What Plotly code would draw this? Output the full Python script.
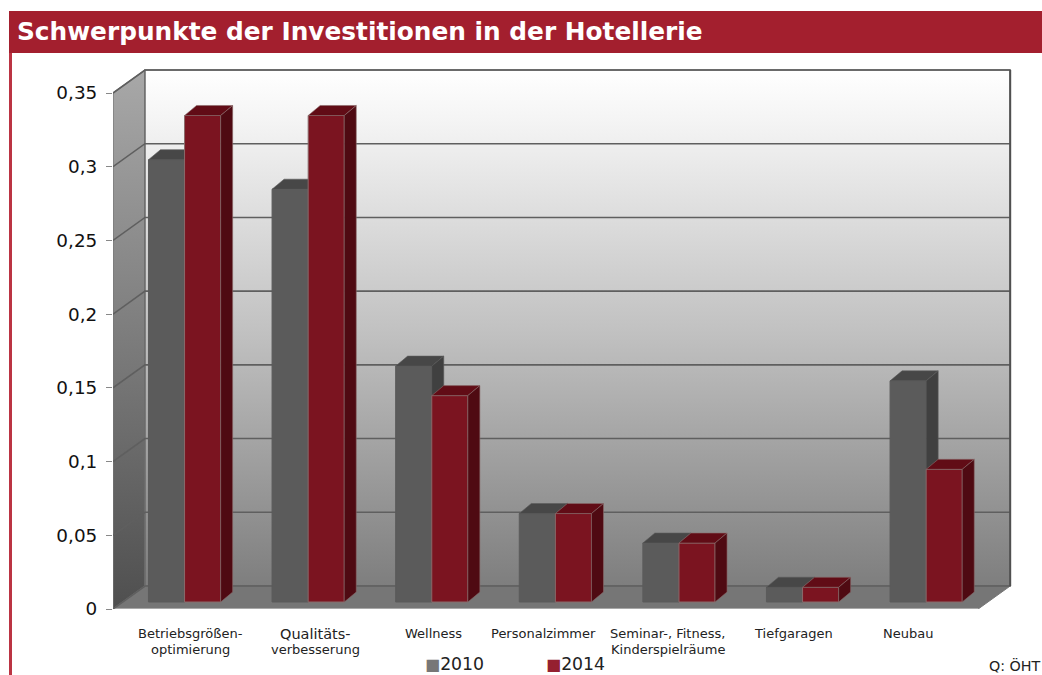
import plotly.graph_objects as go

W, H = 1042, 675
title = "Schwerpunkte der Investitionen in der Hotellerie"
source = "Q: ÖHT"
categories = [["Betriebsgrößen-", "optimierung"], ["Qualitäts-", "verbesserung"], ["Wellness"], ["Personalzimmer"],
              ["Seminar-, Fitness,", "Kinderspielräume"], ["Tiefgaragen"], ["Neubau"]]
values_2010 = [0.30, 0.28, 0.16, 0.06, 0.04, 0.01, 0.15]
values_2014 = [0.33, 0.33, 0.14, 0.06, 0.04, 0.01, 0.09]
y_ticks = [0, 0.05, 0.1, 0.15, 0.2, 0.25, 0.3, 0.35]
y_labels = ["0", "0,05", "0,1", "0,15", "0,2", "0,25", "0,3", "0,35"]
label_centers = [0.623, 1.64, 2.597, 3.479, 4.49, 5.502, 6.432]

# layout geometry (pixels)
PX_L, PX_R, PX_B, PX_T = 113, 1013, 609, 65
PX_PER_CAT = 123.6
PX_PER_VAL = 516 / 0.35
xr = [0, (PX_R - PX_L) / PX_PER_CAT]
yr = [0, (PX_B - PX_T) / PX_PER_VAL]
dx, dy = 32 / PX_PER_CAT, 23 / PX_PER_VAL            # depth of the chart box
bar_dx, bar_dy = 12 / PX_PER_CAT, 10 / PX_PER_VAL    # depth of a bar
base_x, base_y = 0.287, 7 / PX_PER_VAL               # front-left of a cluster
bw = 0.292
n = len(categories)
x_front_end = n

fig = go.Figure()


def poly(xs, ys, axis="", **kw):
    kw.setdefault("line", dict(width=0))
    fig.add_trace(go.Scatter(x=xs, y=ys, mode="lines", fill="toself", showlegend=False, hoverinfo="skip",
                             cliponaxis=False, xaxis="x" + axis, yaxis="y" + axis, **kw))


top_v = y_ticks[-1]
# left wall, back wall, floor
poly([0, dx, dx, 0, 0], [0, dy, top_v + dy, top_v, 0],
     fillgradient=dict(type="vertical", colorscale=[[0, "#4f4f4f"], [0.5, "#7c7c7c"], [1, "#a8a8a8"]]),
     line=dict(color="#777777", width=1.2))
poly([dx, x_front_end + dx, x_front_end + dx, dx, dx], [dy, dy, top_v + dy, top_v + dy, dy],
     fillgradient=dict(type="vertical", colorscale=[[0, "#7e7e7e"], [0.5, "#c2c2c2"], [0.9, "#f4f4f4"], [1, "#ffffff"]]),
     line=dict(color="#6a6a6a", width=1.5))
poly([0, x_front_end, x_front_end + dx, dx, 0], [0, 0, dy, dy, 0], fillcolor="#767676",
     line=dict(color="#767676", width=1))
# floor front edge
fig.add_trace(go.Scatter(x=[0, x_front_end], y=[0, 0], mode="lines", line=dict(color="#a8a8a8", width=2),
                         showlegend=False, hoverinfo="skip", cliponaxis=False))
# gridlines
for v in y_ticks:
    fig.add_trace(go.Scatter(x=[0, dx, x_front_end + dx], y=[v, v + dy, v + dy], mode="lines",
                             line=dict(color="#5f5f5f", width=1.6), showlegend=False, hoverinfo="skip",
                             cliponaxis=False))
# right edge of the back wall
fig.add_trace(go.Scatter(x=[x_front_end + dx, x_front_end + dx], y=[dy, top_v + dy], mode="lines",
                         line=dict(color="#505050", width=2), showlegend=False, hoverinfo="skip", cliponaxis=False))


def series(name, values, shift, axis, front, top, side, border):
    xs0 = [i + base_x + shift for i in range(n)]
    fig.add_trace(go.Bar(name=name, x=[x + bw / 2 for x in xs0], y=values, base=base_y, width=bw,
                         marker=dict(color=front, line=dict(color=border, width=1)),
                         xaxis="x" + axis, yaxis="y" + axis, hoverinfo="skip", showlegend=False))
    for x0, v in zip(xs0, values):
        t = base_y + v
        poly([x0, x0 + bw, x0 + bw + bar_dx, x0 + bar_dx, x0], [t, t, t + bar_dy, t + bar_dy, t], axis,
             fillcolor=top, line=dict(color=border, width=0.6))
        poly([x0 + bw, x0 + bw + bar_dx, x0 + bw + bar_dx, x0 + bw, x0 + bw],
             [base_y, base_y + bar_dy, t + bar_dy, t, base_y], axis,
             fillcolor=side, line=dict(color=border, width=0.6))


series("2010", values_2010, 0, "2", "#5b5b5b", "#474747", "#404040", "#5b5b5b")
series("2014", values_2014, bw, "3", "#7b1420", "#610c16", "#4f0a12", "#8a6a6a")

dom_x = [PX_L / W, PX_R / W]
dom_y = [(H - PX_B) / H, (H - PX_T) / H]
hidden = dict(visible=False, fixedrange=True)

annotations = []
for lines, c in zip(categories, label_centers):
    for k, line in enumerate(lines):
        size = 14.5 if line == "Qualitäts-" else 13
        annotations.append(dict(x=c, y=(H - 633.5 - 16 * k) / H, xref="x", yref="paper", text=line, showarrow=False,
                                yanchor="middle", xanchor="center", font=dict(size=size, color="#222222")))
annotations += [
    dict(x=15 / W, y=(H - 31.5) / H, xref="paper", yref="paper", text=f"<b>{title}</b>", showarrow=False,
         xanchor="left", yanchor="middle", font=dict(size=24.8, color="white")),
    dict(x=1042 / W, y=0, xref="paper", yref="paper", text=source, showarrow=False, borderpad=0,
         xanchor="right", yanchor="bottom", font=dict(size=14.3, color="#222222")),
]
for name, swatch, px in [("2010", "#777777", 424), ("2014", "#952030", 545)]:
    annotations.append(dict(x=px / W, y=0, xref="paper", yref="paper", showarrow=False, borderpad=0,
                            xanchor="left", yanchor="bottom", font=dict(size=17.3, color="#222222"),
                            text=f"<span style=\"color:{swatch};font-size:16px\">■</span>{name}"))

fig.update_layout(
    width=W, height=H, autosize=False,
    margin=dict(l=0, r=0, t=0, b=0, autoexpand=False),
    paper_bgcolor="white", plot_bgcolor="rgba(0,0,0,0)",
    font=dict(family="DejaVu Sans"),
    barmode="overlay",
    showlegend=False,
    xaxis=dict(domain=dom_x, range=xr, showgrid=False, zeroline=False, showline=False, ticks="", showticklabels=False,
               fixedrange=True),
    yaxis=dict(domain=dom_y, range=yr, showgrid=False, zeroline=False, showline=False, tickmode="array",
               tickvals=y_ticks, ticktext=y_labels, ticks="outside", ticklen=6, tickcolor="#888888", tickwidth=1,
               ticklabelstandoff=5, tickfont=dict(size=18.4, color="#111111"), fixedrange=True),
    xaxis2=dict(overlaying="x", domain=dom_x, range=xr, **hidden),
    yaxis2=dict(overlaying="y", domain=dom_y, range=yr, **hidden),
    xaxis3=dict(overlaying="x", domain=dom_x, range=xr, **hidden),
    yaxis3=dict(overlaying="y", domain=dom_y, range=yr, **hidden),
    annotations=annotations,
    shapes=[
        dict(type="rect", xref="paper", yref="paper", x0=9 / W, x1=1, y0=(H - 53) / H, y1=(H - 11) / H,
             fillcolor="#a31f2e", line=dict(width=0), layer="below"),
        dict(type="rect", xref="paper", yref="paper", x0=9 / W, x1=12 / W, y0=0, y1=(H - 53) / H,
             fillcolor="#bb3443", line=dict(width=0), layer="below"),
    ],
)
fig.write_html("out.html", config=dict(displayModeBar=False),
               post_script="document.body.style.margin='0';document.documentElement.style.overflow='hidden';")
